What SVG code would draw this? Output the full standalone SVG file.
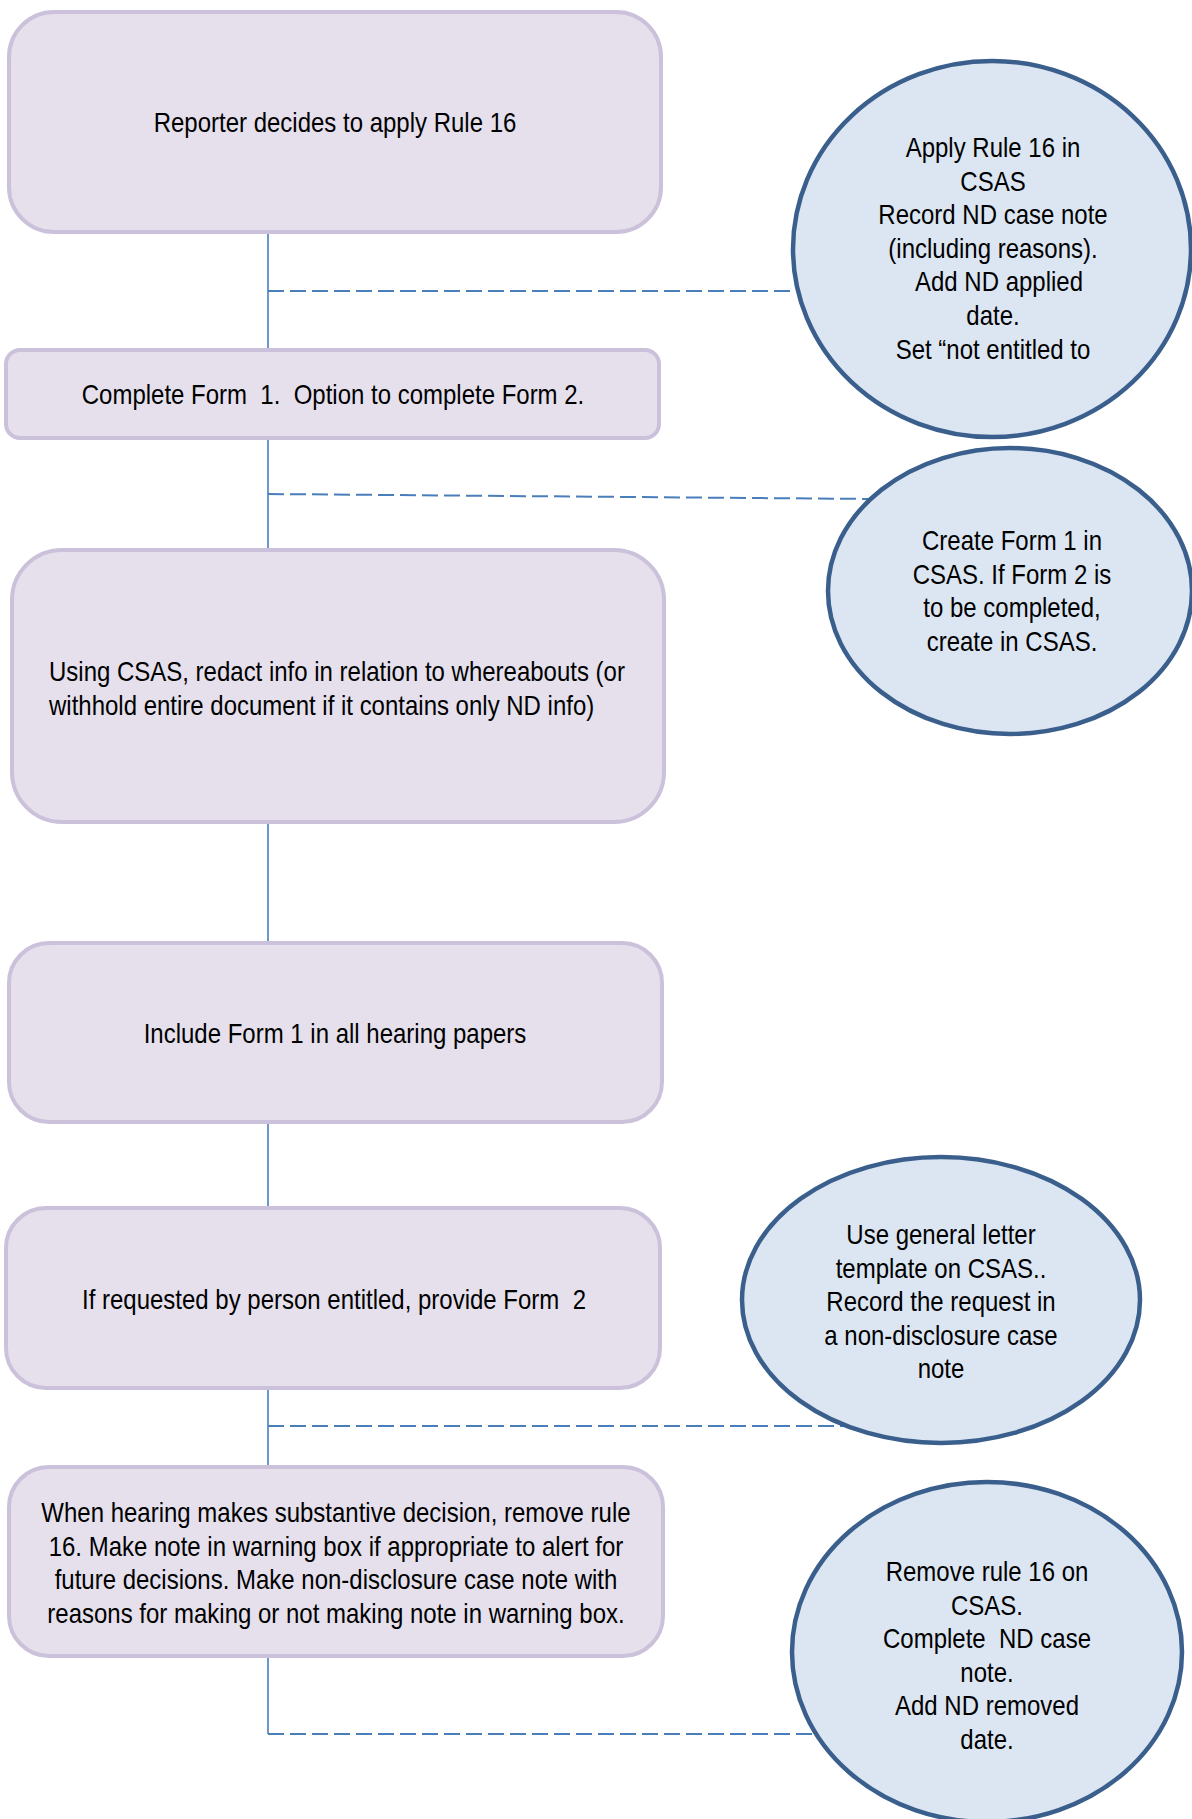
<svg xmlns="http://www.w3.org/2000/svg" width="1192" height="1819" viewBox="0 0 1192 1819">
<style>
.box{fill:#e5e0ec;stroke:#ccc1da;stroke-width:4}
.oval{fill:#dce6f2;stroke:#3a5f8c;stroke-width:4.5}
.ln{stroke:#4a7ebb;stroke-width:1.6;fill:none}
.dash{stroke:#4a7ebb;stroke-width:2;fill:none;stroke-dasharray:16 6}
text{font-family:"Liberation Sans",Arial,sans-serif;font-size:28px;fill:#000}
.c{text-anchor:middle}
</style>
<rect width="1192" height="1819" fill="#fff"/>
<g id="connectors">
<line class="ln" x1="268" y1="232" x2="268" y2="350"/>
<line class="dash" x1="268" y1="291" x2="800" y2="291"/>
<line class="ln" x1="268" y1="438" x2="268" y2="550"/>
<line class="dash" x1="268" y1="494" x2="872" y2="499"/>
<line class="ln" x1="268" y1="822" x2="268" y2="943"/>
<line class="ln" x1="268" y1="1122" x2="268" y2="1208"/>
<line class="ln" x1="268" y1="1388" x2="268" y2="1467"/>
<line class="dash" x1="268" y1="1426" x2="850" y2="1426"/>
<polyline class="ln" points="268,1656 268,1734"/>
<line class="dash" x1="268" y1="1734" x2="820" y2="1734"/>
</g>
<g id="n1">
<rect class="box" x="9" y="12" width="652" height="220" rx="45"/>
<text class="c" transform="translate(335,132) scale(0.857,1)" x="0" y="0">Reporter decides to apply Rule 16</text>
</g>
<g id="n2">
<rect class="box" x="6" y="350" width="653" height="88" rx="14"/>
<text class="c" xml:space="preserve" transform="translate(333,404) scale(0.857,1)" x="0" y="0">Complete Form  1.  Option to complete Form 2.</text>
</g>
<g id="n3">
<rect class="box" x="12" y="550" width="652" height="272" rx="50"/>
<text transform="translate(49,681) scale(0.857,1)" x="0" y="0"><tspan x="0" dy="0">Using CSAS, redact info in relation to whereabouts (or</tspan><tspan x="0" dy="33.6">withhold entire document if it contains only ND info)</tspan></text>
</g>
<g id="n4">
<rect class="box" x="9" y="943" width="653" height="179" rx="40"/>
<text class="c" transform="translate(335,1043) scale(0.857,1)" x="0" y="0">Include Form 1 in all hearing papers</text>
</g>
<g id="n5">
<rect class="box" x="6" y="1208" width="654" height="180" rx="40"/>
<text class="c" xml:space="preserve" transform="translate(334,1309) scale(0.857,1)" x="0" y="0">If requested by person entitled, provide Form  2</text>
</g>
<g id="n6">
<rect class="box" x="9" y="1467" width="654" height="189" rx="40"/>
<text class="c" transform="translate(336,1522) scale(0.857,1)" x="0" y="0"><tspan x="0" dy="0">When hearing makes substantive decision, remove rule</tspan><tspan x="0" dy="33.6">16. Make note in warning box if appropriate to alert for</tspan><tspan x="0" dy="33.6">future decisions. Make non-disclosure case note with</tspan><tspan x="0" dy="33.6">reasons for making or not making note in warning box.</tspan></text>
</g>
<g id="c1">
<ellipse class="oval" cx="992" cy="249" rx="199" ry="188"/>
<text class="c" transform="translate(993,157) scale(0.857,1)" x="0" y="0"><tspan x="0" dy="0">Apply Rule 16 in</tspan><tspan x="0" dy="33.6">CSAS</tspan><tspan x="0" dy="33.6">Record ND case note</tspan><tspan x="0" dy="33.6">(including reasons).</tspan><tspan x="7" dy="33.6">Add ND applied</tspan><tspan x="0" dy="33.6">date.</tspan><tspan x="0" dy="33.6">Set “not entitled to</tspan></text>
</g>
<g id="c2">
<ellipse class="oval" cx="1010" cy="591" rx="182" ry="143"/>
<text class="c" transform="translate(1012,550) scale(0.857,1)" x="0" y="0"><tspan x="0" dy="0">Create Form 1 in</tspan><tspan x="0" dy="33.6">CSAS. If Form 2 is</tspan><tspan x="0" dy="33.6">to be completed,</tspan><tspan x="0" dy="33.6">create in CSAS.</tspan></text>
</g>
<g id="c3">
<ellipse class="oval" cx="941" cy="1300" rx="199" ry="143"/>
<text class="c" transform="translate(941,1244) scale(0.857,1)" x="0" y="0"><tspan x="0" dy="0">Use general letter</tspan><tspan x="0" dy="33.6">template on CSAS..</tspan><tspan x="0" dy="33.6">Record the request in</tspan><tspan x="0" dy="33.6">a non-disclosure case</tspan><tspan x="0" dy="33.6">note</tspan></text>
</g>
<g id="c4">
<ellipse class="oval" cx="987" cy="1652" rx="195" ry="170"/>
<text class="c" xml:space="preserve" transform="translate(987,1581) scale(0.857,1)" x="0" y="0"><tspan x="0" dy="0">Remove rule 16 on</tspan><tspan x="0" dy="33.6">CSAS.</tspan><tspan x="0" dy="33.6">Complete  ND case</tspan><tspan x="0" dy="33.6">note.</tspan><tspan x="0" dy="33.6">Add ND removed</tspan><tspan x="0" dy="33.6">date.</tspan></text>
</g>
</svg>
